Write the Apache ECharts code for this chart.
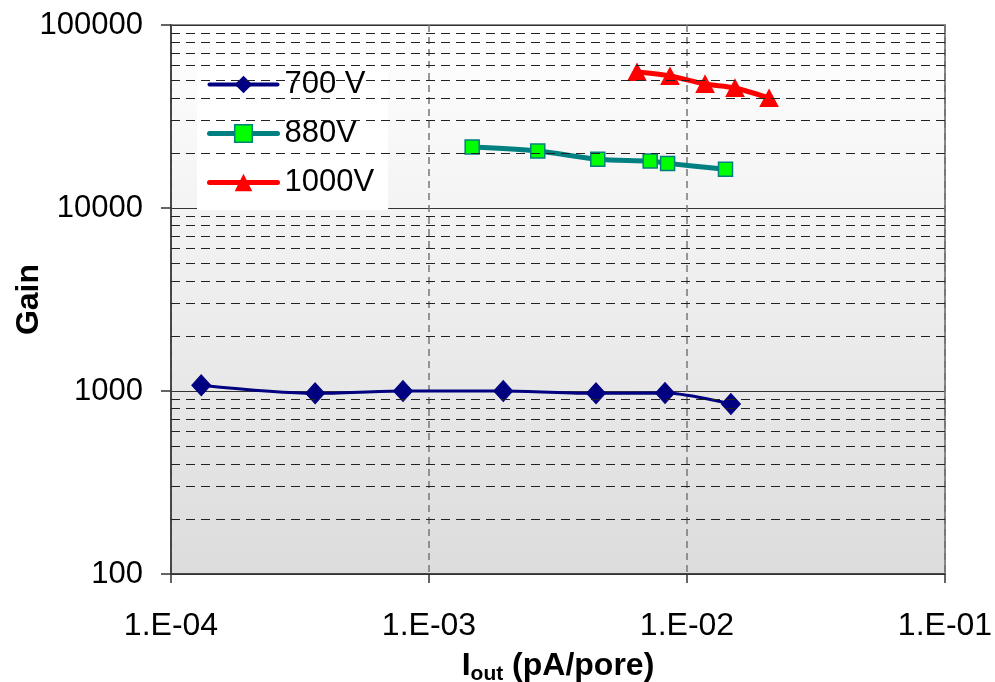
<!DOCTYPE html>
<html>
<head>
<meta charset="utf-8">
<script src="https://cdn.jsdelivr.net/npm/echarts@6/dist/echarts.min.js"></script>
<style>
html,body{margin:0;padding:0;background:#fff;}
#c{width:995px;height:682px;}
</style>
</head>
<body>
<div id="c"></div>
<script>
// ---- data ----
var seriesNames = ['700 V', '880V', '1000V'];
var x700 = [1.31e-4, 3.62e-4, 7.93e-4, 1.94e-3, 4.44e-3, 8.22e-3, 1.48e-2];
var y700 = [1075, 971, 1000, 1000, 971, 975, 849];
var x880 = [1.47e-3, 2.64e-3, 4.51e-3, 7.20e-3, 8.41e-3, 1.41e-2];
var y880 = [21540, 20470, 18460, 18060, 17530, 16270];
var x1000 = [6.40e-3, 8.59e-3, 1.175e-2, 1.535e-2, 2.08e-2];
var y1000 = [55300, 52640, 47630, 45300, 39900];
var xTickLabels = ['1.E-04', '1.E-03', '1.E-02', '1.E-01'];
var yTickLabels = ['100', '1000', '10000', '100000'];

function pairs(xs, ys) { return xs.map(function (x, i) { return [x, ys[i]]; }); }

// minor gridline values (2..9 x each decade)
var minorY = [];
[100, 1000, 10000].forEach(function (d) { for (var k = 2; k <= 9; k++) minorY.push(k * d); });

var FONT = 'Liberation Sans, Arial, sans-serif';
var chart = echarts.init(document.getElementById('c'), null, { renderer: 'canvas' });

var styles = [
  { line: { color: '#000080', width: 3 }, legendWidth: 4, item: { color: '#000080', borderColor: '#000080' }, symbol: 'diamond', size: [19, 21] },
  { line: { color: '#008080', width: 5 }, legendWidth: 5, item: { color: '#00ff00', borderColor: '#008080', borderWidth: 1.5 }, symbol: 'rect', size: 14 },
  { line: { color: '#ff0000', width: 5 }, legendWidth: 5, item: { color: '#ff0000', borderColor: '#ff0000' }, symbol: 'triangle', size: [18, 17] }
];

var option = {
  animation: false,
  backgroundColor: '#fff',
  textStyle: { fontFamily: FONT },
  grid: {
    left: 171, right: 50, top: 25, bottom: 108,
    outerBoundsMode: 'none',
    containLabel: false,
    show: true,
    backgroundColor: new echarts.graphic.LinearGradient(0, 0, 0, 1, [
      { offset: 0, color: '#ffffff' },
      { offset: 1, color: '#dcdcdc' }
    ]),
    borderColor: '#8a8a8a', borderWidth: 2
  },
  legend: {
    left: 197, top: 57,
    orient: 'vertical',
    backgroundColor: '#ffffff',
    padding: [12, 14, 12, 10],
    itemGap: 18,
    itemWidth: 68, itemHeight: 22,
    textStyle: { fontFamily: FONT, fontSize: 31, color: '#000', padding: [0, 0, 0, 2] },
    data: seriesNames.map(function (n, i) {
      return { name: n, lineStyle: { color: styles[i].line.color, width: styles[i].legendWidth, cap: 'round' }, itemStyle: styles[i].item };
    })
  },
  xAxis: {
    type: 'log', logBase: 10, min: 1e-4, max: 1e-1,
    name: '{a|I}{b|out}{a| (pA/pore)}',
    nameLocation: 'middle', nameGap: 76,
    nameMoveOverlap: false,
    nameTextStyle: {
      rich: {
        a: { fontFamily: FONT, fontSize: 32, fontWeight: 'bold', color: '#000', verticalAlign: 'bottom' },
        b: { fontFamily: FONT, fontSize: 21, fontWeight: 'bold', color: '#000', verticalAlign: 'bottom', padding: [0, 0, -3, 0] }
      }
    },
    axisLine: { show: true, lineStyle: { color: '#333', width: 1.5 } },
    axisTick: { show: true, length: 9, lineStyle: { color: '#333', width: 1.5 } },
    axisLabel: {
      fontFamily: FONT, fontSize: 32, color: '#000', margin: 36,
      formatter: function (v, i) { return xTickLabels[i]; }
    },
    splitLine: { show: true, lineStyle: { color: '#777', type: [7, 5], width: 1.5 } },
    minorTick: { show: false }, minorSplitLine: { show: false }
  },
  yAxis: {
    type: 'log', logBase: 10, min: 100, max: 100000,
    name: 'Gain',
    nameLocation: 'middle', nameGap: 126, nameRotate: 90,
    nameMoveOverlap: false,
    nameTextStyle: { fontFamily: FONT, fontSize: 32, fontWeight: 'bold', color: '#000' },
    axisLine: { show: true, lineStyle: { color: '#333', width: 1.5 } },
    axisTick: { show: true, length: 10, lineStyle: { color: '#333', width: 1.5 } },
    axisLabel: {
      fontFamily: FONT, fontSize: 31, color: '#000', margin: 28,
      formatter: function (v, i) { return yTickLabels[i]; }
    },
    splitLine: { show: true, lineStyle: { color: '#333', width: 1.2, type: 'solid' } }
  },
  series: [
    {
      name: '_grid', type: 'line', data: [], silent: true, z: 1,
      markLine: {
        silent: true, symbol: 'none', animation: false,
        label: { show: false },
        lineStyle: { color: '#222', type: [9, 6], width: 1.2 },
        data: minorY.map(function (v) { return { yAxis: v }; })
      }
    }
  ].concat([[x700, y700], [x880, y880], [x1000, y1000]].map(function (d, i) {
    return {
      name: seriesNames[i], type: 'line', data: pairs(d[0], d[1]), z: 3,
      smooth: 0.3,
      symbol: styles[i].symbol, symbolSize: styles[i].size,
      lineStyle: styles[i].line,
      itemStyle: styles[i].item
    };
  }))
};
chart.setOption(option);
</script>
</body>
</html>
